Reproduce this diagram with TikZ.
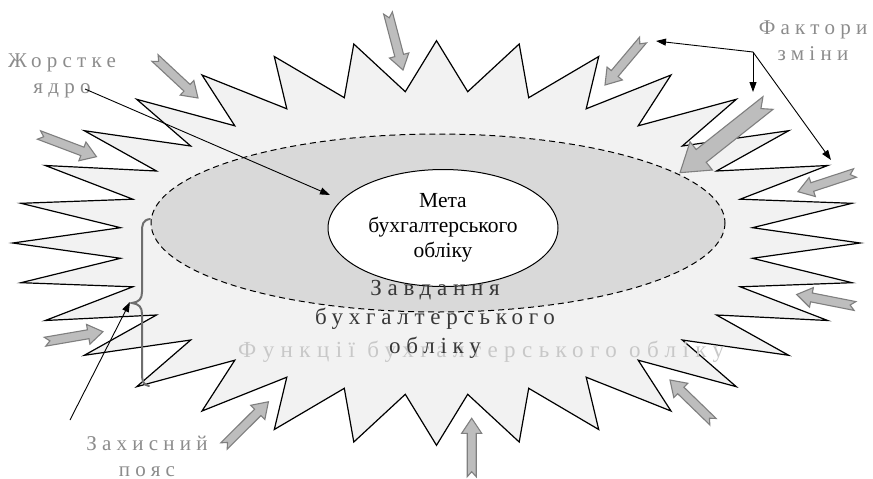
\documentclass[tikz,border=0pt]{standalone}
\usepackage{fontspec}
\setmainfont{Liberation Serif}
\newfontfamily\spacedfont[LetterSpace=25]{Liberation Serif}
\newfontfamily\widefont[LetterSpace=28]{Liberation Serif}
\usetikzlibrary{shapes.geometric,arrows.meta}

\definecolor{starfill}{HTML}{F2F2F2}
\definecolor{corefill}{HTML}{D9D9D9}
\definecolor{blockfill}{HTML}{BDBDBD}
\definecolor{blockline}{HTML}{7F7F7F}
\definecolor{labelgray}{HTML}{8C8C8C}
\definecolor{faintgray}{HTML}{C8C8C8}
\definecolor{taskgray}{HTML}{383838}
\definecolor{bracegray}{HTML}{6E6E6E}

% half-outline of the star, one quadrant: offsets from the centre (dx/dy)
\def\rayfwd{31.2/151.3, 82.7/199, 92.2/145.3, 162.2/186.5, 149.7/134.2, 234.5/168, 201.7/117.2, 299.8/143.7, 245.8/97, 352.2/112.3, 280/72, 391.2/77.5, 303.7/43.8, 415.5/39.7, 316/15.3, 423.6/0}
\def\rayrev{316/15.3, 415.5/39.7, 303.7/43.8, 391.2/77.5, 280/72, 352.2/112.3, 245.8/97, 299.8/143.7, 201.7/117.2, 234.5/168, 149.7/134.2, 162.2/186.5, 92.2/145.3, 82.7/199, 31.2/151.3}

% notched block arrow from tail (#2,#3) to tip (#4,#5), size factor #1
\newcommand\flowarrow[5][1]{%
  \pgfmathsetmacro\flowang{atan2(-(#5-#3),#4-#2)}%
  \pgfmathsetmacro\flowlen{veclen(#4-#2,#5-#3)/#1}%
  \begin{scope}[shift={(#2,#3)},rotate=\flowang,scale=#1]
    \filldraw[blockarrow] (0,-4.5) -- (\flowlen-15,-4.5) -- (\flowlen-15,-10)
      -- (\flowlen,0) -- (\flowlen-15,10) -- (\flowlen-15,4.5) -- (0,4.5) -- (5,0) -- cycle;
  \end{scope}}

\tikzset{
  starshape/.style={fill=starfill,draw=black,line width=1.2pt},
  blockarrow/.style={fill=blockfill,draw=blockline,line width=1.1pt},
  coreshape/.style={ellipse,fill=corefill,minimum width=574pt,minimum height=178pt,inner sep=0pt},
  coreedge/.style={draw=black,line width=1pt,dash pattern=on 6pt off 4pt},
  goalshape/.style={ellipse,fill=white,draw=black,line width=1pt,minimum width=230pt,
    minimum height=117pt,inner sep=0pt,align=center,font=\fontsize{21.5}{25}\selectfont},
  tasklabel/.style={align=center,inner sep=0pt,text=taskgray,font=\spacedfont\fontsize{23}{29}\selectfont},
  functionslabel/.style={inner sep=0pt,text=faintgray,font=\widefont\fontsize{23}{26}\selectfont},
  sidelabel/.style={align=center,inner sep=0pt,text=labelgray,font=\spacedfont\fontsize{21}{26}\selectfont},
  pointer/.style={draw=black,line width=0.9pt,-{Triangle[length=10pt,width=7pt]}},
  bracestroke/.style={draw=bracegray,line width=2pt,line cap=round}
}

\begin{document}
\begin{tikzpicture}[x=1pt,y=-1pt]
\useasboundingbox (0,0) rectangle (873,479);
\fill[white] (0,0) rectangle (873,479);

% outer star (protective belt)
\begin{scope}[shift={(436.5,243)}]
  \path[starshape] (0,-202.3)
    \foreach \a/\b in \rayfwd {-- (\a,-\b)}
    \foreach \a/\b in \rayrev {-- (\a,\b)}
    -- (0,202.3)
    \foreach \a/\b in \rayfwd {-- (-\a,\b)}
    \foreach \a/\b in \rayrev {-- (-\a,-\b)}
    -- cycle;
\end{scope}

% factors of change acting on the belt
\flowarrow{155}{58}{198}{98}
\flowarrow{39}{135}{96.5}{156.7}
\flowarrow{388}{13}{403}{70}
\flowarrow{643}{40}{605}{85}
\flowarrow[1.8]{768}{103}{680}{172.7}
\flowarrow{855}{173}{798}{191.7}
\flowarrow{855}{306}{796.7}{294.5}
\flowarrow{713}{421.7}{670}{380}
\flowarrow{471.7}{476.7}{471.7}{418.3}
\flowarrow{224}{446}{268.5}{401.7}
\flowarrow{45}{341.7}{103}{331.7}

% hard core and goal
\node[coreshape] (core) at (438,223) {};
\node[goalshape] (goal) at (443,228) {Мета\\бухгалтерського\\обліку};

\node[functionslabel,anchor=base west] (functions) at (238,357) {Функції бухгалтерського обліку};
\node[tasklabel] (tasks) at (435,319) {Завдання\\бухгалтерського\\обліку};

\draw[coreedge] (core.center) ellipse [x radius=287, y radius=89];

% side labels
\node[sidelabel] (corelabel) at (62,76) {Жорстке\\ядро};
\node[sidelabel] (changelabel) at (813,41) {Фактори\\зміни};
\node[sidelabel] (beltlabel) at (147,456) {Захисний\\пояс};

% pointers from the labels
\coordinate (corefrom) at (85,89);
\coordinate (coreto) at (330,195);
\draw[pointer] (corefrom) -- (coreto);

\coordinate (hub) at (753,52);
\coordinate (hubleft) at (656,41);
\coordinate (hubdown) at (753,92);
\coordinate (hubright) at (831,160);
\draw[pointer] (hub) -- (hubleft);
\draw[pointer] (hub) -- (hubdown);
\draw[pointer] (hub) -- (hubright);

\coordinate (beltfrom) at (70,420);
\coordinate (beltto) at (130,302);
\draw[pointer] (beltfrom) -- (beltto);

% brace marking the belt width
\coordinate (bracetop) at (150,219);
\coordinate (bracetip) at (132,303);
\coordinate (bracebottom) at (149,386);
\draw[bracestroke] (bracetop) .. controls (143,220) and (142,224) .. (142,232) -- (142,292)
  .. controls (142,299) and (139,302) .. (bracetip)
  .. controls (139,304) and (142,307) .. (142,314) -- (142,374)
  .. controls (142,382) and (144,385) .. (bracebottom);
\end{tikzpicture}
\end{document}
